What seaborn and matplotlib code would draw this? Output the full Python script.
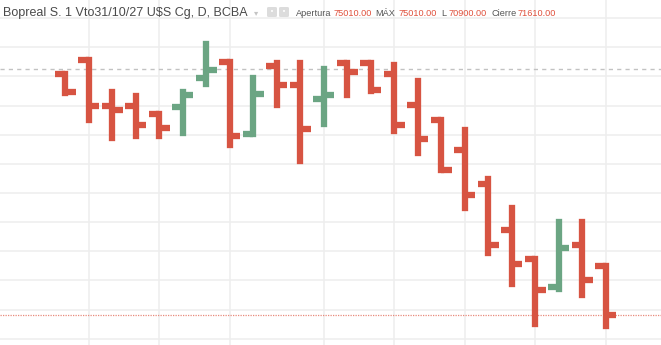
import numpy as np
import pandas as pd
import matplotlib
matplotlib.use("Agg")
import matplotlib.pyplot as plt
import seaborn as sns
from matplotlib.patches import FancyBboxPatch

# ---- data (daily OHLC) ----
opens  = [88180, 89140, 85950, 85950, 85420, 85900, 87890, 88990, 84030, 88730,
          87430, 86470, 88920, 88920, 88180, 86020, 84990, 82930, 80640, 77430,
          75470, 73530, 76450, 75010]
highs  = [88180, 89140, 86910, 86630, 85420, 86930, 90220, 88990, 87890, 88920,
          88920, 88530, 88920, 88920, 88760, 87660, 84990, 84340, 80960, 79000,
          75470, 77990, 77990, 75010]
lows   = [86880, 84990, 83790, 83910, 83910, 84140, 87500, 83270, 84030, 86020,
          82200, 84750, 86700, 86980, 84230, 82760, 81560, 78990, 75880, 73780,
          70990, 73410, 73020, 70900]
closes = [86900, 85950, 85710, 84690, 84460, 86700, 88420, 83890, 86810, 87390,
          84410, 86700, 88280, 87040, 84690, 83730, 81560, 79880, 76410, 75130,
          73350, 76230, 74010, 71610]
ref_line = 88500          # grey dashed horizontal line
last_close = closes[-1]   # red dotted price line
grid_prices = list(range(70000, 93000, 2000))
vgrid_bars = [1, 4, 7, 11, 14, 17, 20, 23]

title = "Bopreal S. 1 Vto31/10/27 U$S Cg, D, BCBA"
legend_labels = ["Apertura", "MÁX", "L", "Cierre"]
legend_values = ["75010.00", "75010.00", "70900.00", "71610.00"]

UP, DOWN = "#6ba583", "#d75442"

df = pd.DataFrame({"i": np.arange(len(opens)), "open": opens, "high": highs,
                   "low": lows, "close": closes})
df["color"] = np.where(df["close"] >= df["open"], UP, DOWN)

sns.set_theme(style="white")
W, H = 661, 345
fig = plt.figure(figsize=(W / 100, H / 100), dpi=100)
ax = fig.add_axes([0, 0, 1, 1])
ax.set_xlim(-2.78, 25.35)
ax.set_ylim(69573, 93240)
for s in ax.spines.values():
    s.set_visible(False)
ax.set_xticks([]); ax.set_yticks([])

# grid
for p in grid_prices:
    ax.axhline(p, color="#eeeeee", lw=1.1, zorder=0)
for b in vgrid_bars:
    ax.axvline(b, color="#eeeeee", lw=1.1, zorder=0)

ax.axhline(ref_line, color="#c2c2c2", lw=1.0, ls=(0, (3, 3)), zorder=1)
ax.axhline(last_close, color="#e88a7c", lw=0.9, ls=(0, (1, 1)), zorder=1)

lw = 6.3 * 72 / 100
tick = 0.45
ax.vlines(df["i"], df["low"], df["high"], colors=df["color"], lw=lw,
          capstyle="projecting", zorder=3)
ax.hlines(df["open"], df["i"] - tick, df["i"], colors=df["color"], lw=lw,
          capstyle="butt", zorder=3)
ax.hlines(df["close"], df["i"], df["i"] + tick, colors=df["color"], lw=lw,
          capstyle="butt", zorder=3)

# header
def fx(px): return px / W
def fy(py): return 1 - py / H

fig.text(fx(3), fy(13), title, fontsize=9.0, color="#4a4a4a",
         family="Liberation Sans", va="center", ha="left")
fig.text(fx(254), fy(13), "▾", fontsize=6, color="#c4c4c4",
         family="DejaVu Sans", va="center", ha="left")
for x0 in (267, 279):
    fig.patches.append(FancyBboxPatch((fx(x0), fy(17)), 10 / W, 10 / H,
                                      boxstyle="round,pad=0,rounding_size=0.003",
                                      transform=fig.transFigure, fc="#dcdcdc",
                                      ec="none"))
    fig.text(fx(x0 + 5), fy(12), "•", fontsize=5, color="white",
             va="center", ha="center")

lab_x = [296, 375, 441, 491]
val_x = [334, 399, 449, 518]
for lbl, lx, val, vx in zip(legend_labels, lab_x, legend_values, val_x):
    fig.text(fx(lx), fy(13), lbl, fontsize=6.6, color="#555555",
             family="Liberation Sans", va="center", ha="left")
    fig.text(fx(vx), fy(13), val, fontsize=6.6, color="#e0503c",
             family="Liberation Sans", va="center", ha="left")

fig.savefig("out.png", dpi=100)
